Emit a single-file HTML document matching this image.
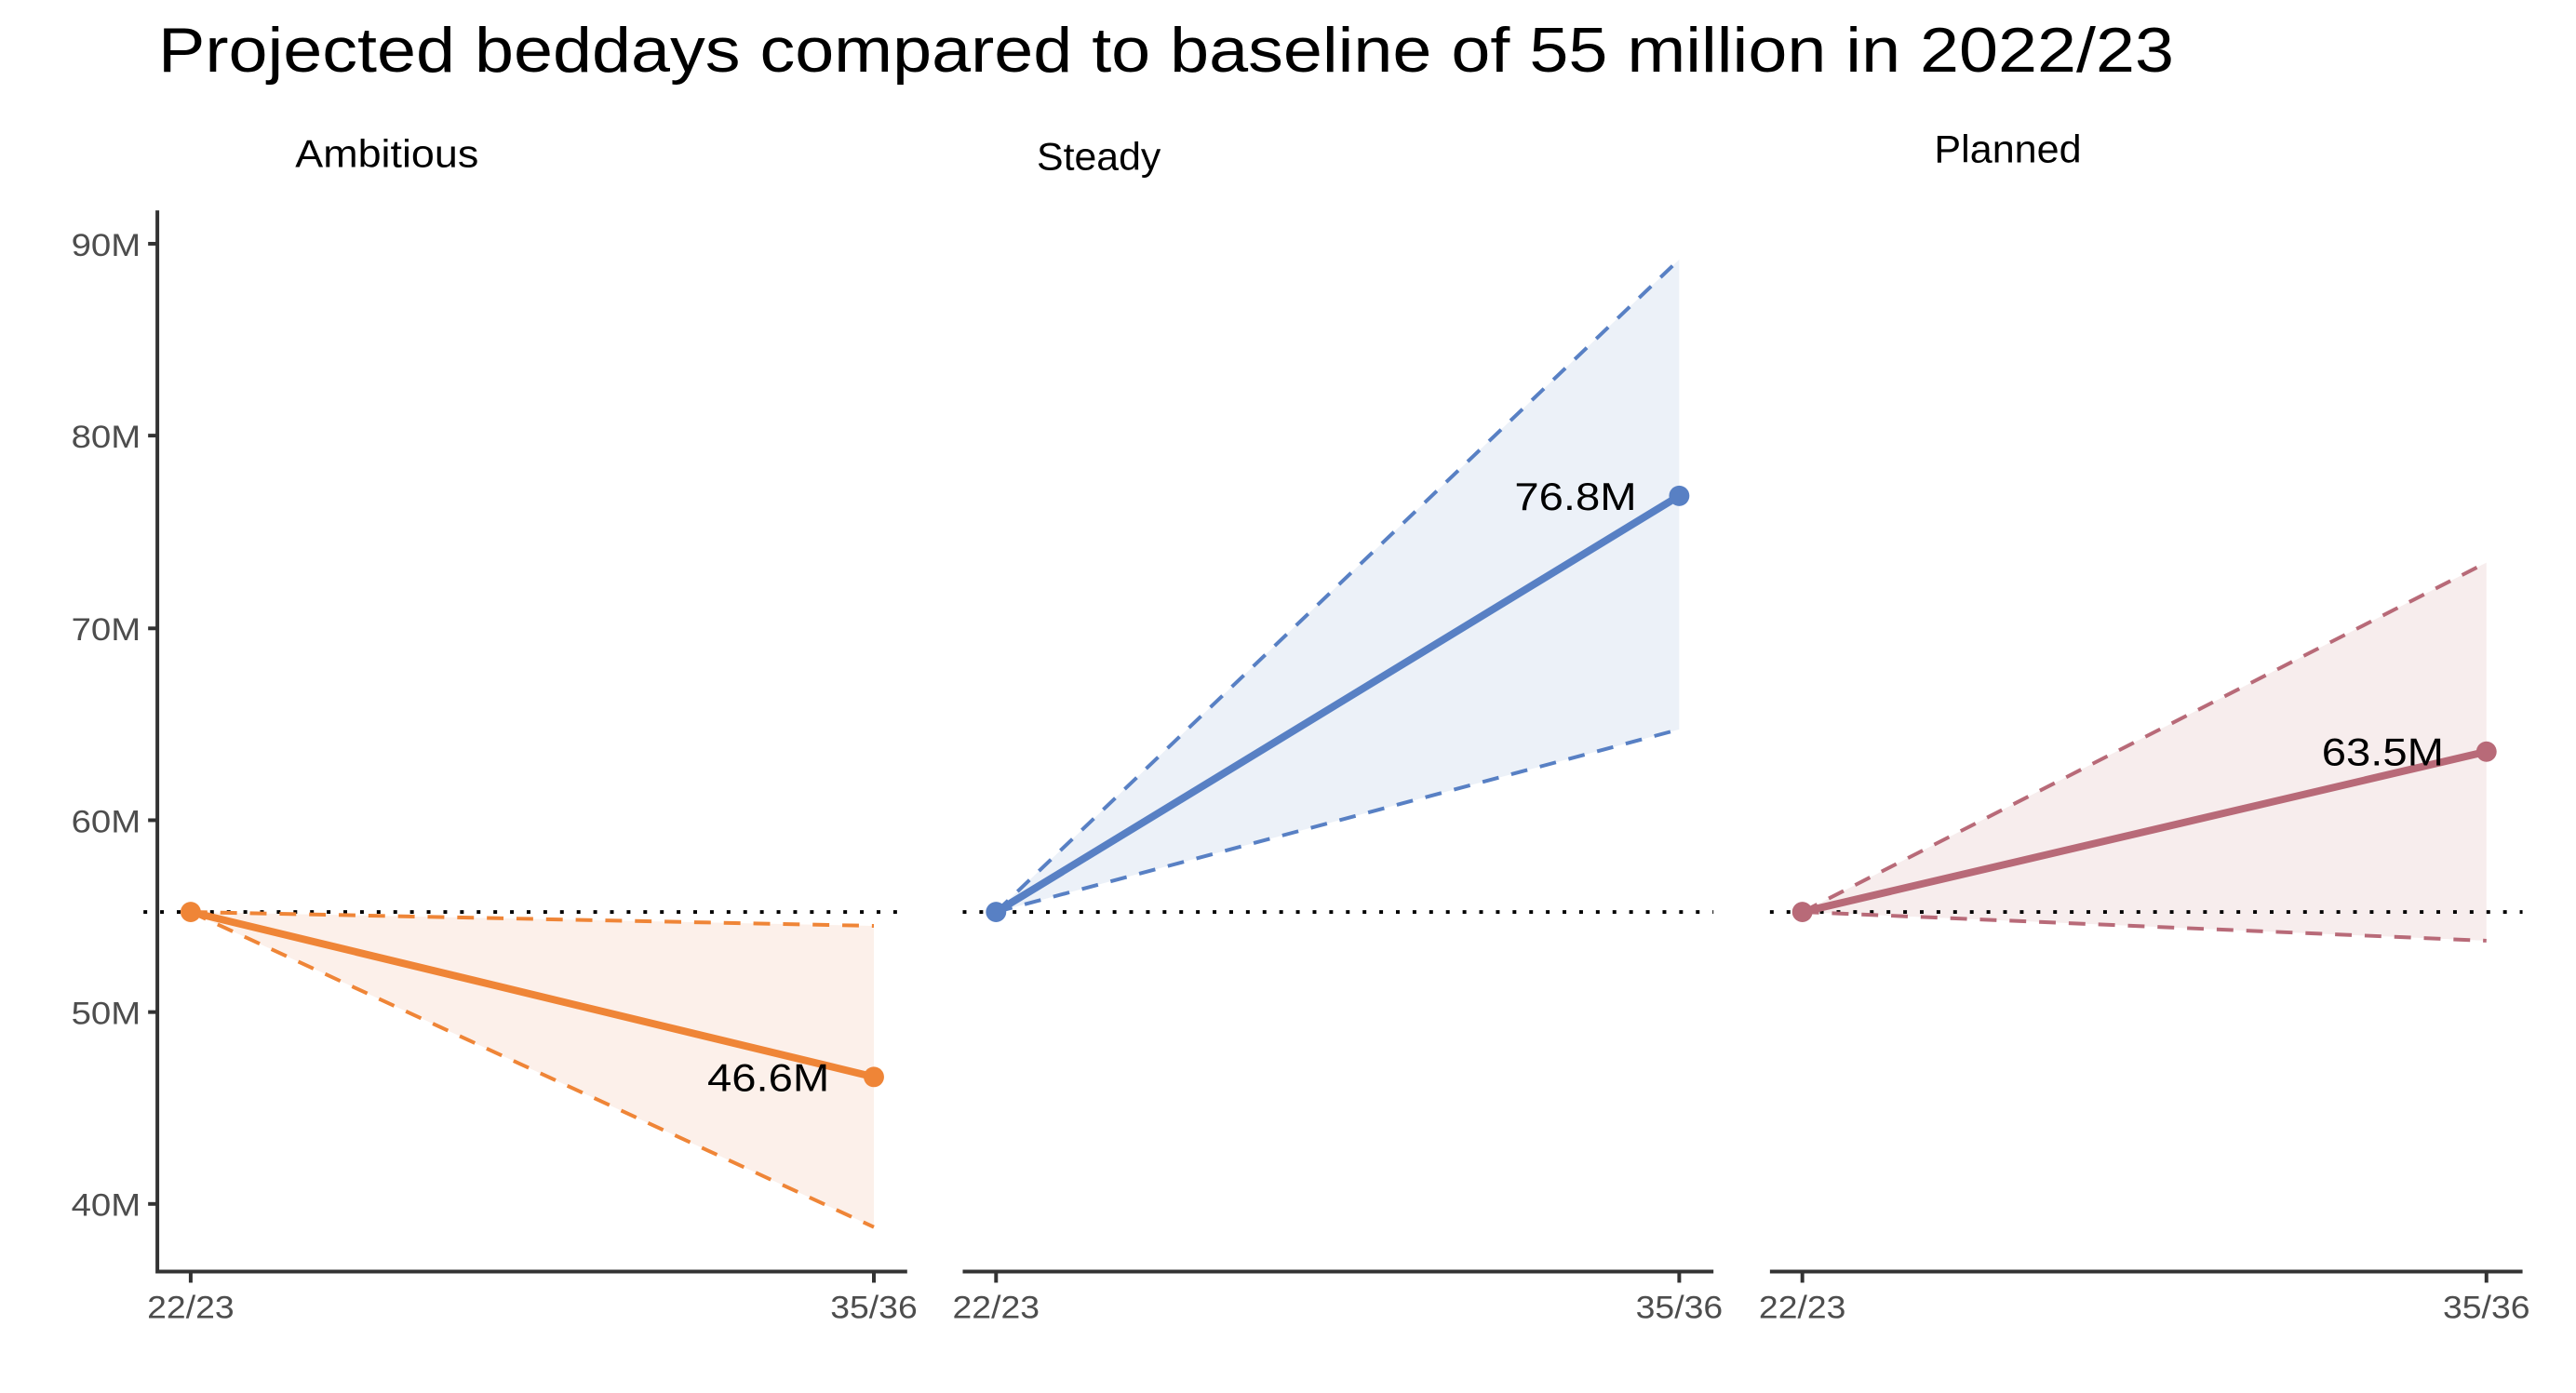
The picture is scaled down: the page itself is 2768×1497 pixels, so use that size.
<!DOCTYPE html>
<html><head><style>html,body{margin:0;padding:0;background:#fff;}svg{display:block;}</style></head>
<body>
<svg width="2768" height="1497" viewBox="0 0 2768 1497" xmlns="http://www.w3.org/2000/svg">
<rect width="2768" height="1497" fill="#fff"/>
<text x="170" y="77" font-family="Liberation Sans, DejaVu Sans, sans-serif" font-size="68" fill="#000" textLength="2166" lengthAdjust="spacingAndGlyphs">Projected beddays compared to baseline of 55 million in 2022/23</text>
<g transform="scale(0.9947,0.996)">
<g font-family="Liberation Sans, DejaVu Sans, sans-serif" font-size="42" fill="#000" text-anchor="middle" lengthAdjust="spacingAndGlyphs">
<text x="418" y="180" textLength="198" lengthAdjust="spacingAndGlyphs">Ambitious</text>
<text x="1187" y="183" textLength="134" lengthAdjust="spacingAndGlyphs">Steady</text>
<text x="2169" y="175" textLength="159" lengthAdjust="spacingAndGlyphs">Planned</text>
</g>
<line x1="170" y1="227" x2="170" y2="1374" stroke="#333" stroke-width="4"/>
<g stroke="#333" stroke-width="4">
<line x1="160" y1="263" x2="170" y2="263"/><line x1="160" y1="470" x2="170" y2="470"/>
<line x1="160" y1="678" x2="170" y2="678"/><line x1="160" y1="885" x2="170" y2="885"/>
<line x1="160" y1="1092" x2="170" y2="1092"/><line x1="160" y1="1299" x2="170" y2="1299"/>
</g>
<g font-family="Liberation Sans, DejaVu Sans, sans-serif" font-size="34" fill="#4d4d4d" text-anchor="end">
<text x="152" y="276" textLength="75" lengthAdjust="spacingAndGlyphs">90M</text><text x="152" y="483" textLength="75" lengthAdjust="spacingAndGlyphs">80M</text><text x="152" y="691" textLength="75" lengthAdjust="spacingAndGlyphs">70M</text>
<text x="152" y="898" textLength="75" lengthAdjust="spacingAndGlyphs">60M</text><text x="152" y="1105" textLength="75" lengthAdjust="spacingAndGlyphs">50M</text><text x="152" y="1312" textLength="75" lengthAdjust="spacingAndGlyphs">40M</text>
</g>
<g stroke="#333" stroke-width="4">
<line x1="170" y1="1372" x2="980" y2="1372"/><line x1="206" y1="1372" x2="206" y2="1384"/><line x1="944" y1="1372" x2="944" y2="1384"/>
<line x1="1040" y1="1372" x2="1851" y2="1372"/><line x1="1076" y1="1372" x2="1076" y2="1384"/><line x1="1814" y1="1372" x2="1814" y2="1384"/>
<line x1="1912" y1="1372" x2="2725" y2="1372"/><line x1="1947" y1="1372" x2="1947" y2="1384"/><line x1="2686" y1="1372" x2="2686" y2="1384"/>
</g>
<g font-family="Liberation Sans, DejaVu Sans, sans-serif" font-size="34" fill="#4d4d4d" text-anchor="middle">
<text x="206" y="1422" textLength="94" lengthAdjust="spacingAndGlyphs">22/23</text><text x="944" y="1422" textLength="94" lengthAdjust="spacingAndGlyphs">35/36</text>
<text x="1076" y="1422" textLength="94" lengthAdjust="spacingAndGlyphs">22/23</text><text x="1814" y="1422" textLength="94" lengthAdjust="spacingAndGlyphs">35/36</text>
<text x="1947" y="1422" textLength="94" lengthAdjust="spacingAndGlyphs">22/23</text><text x="2686" y="1422" textLength="94" lengthAdjust="spacingAndGlyphs">35/36</text>
</g>
<polygon points="206,984 944,999 944,1324" fill="#fcf0ea"/>
<line x1="155" y1="984" x2="980" y2="984" stroke="#000" stroke-width="4" stroke-dasharray="4,14"/>
<g stroke="#ef8537" stroke-width="4" stroke-dasharray="18,14" fill="none">
<line x1="206" y1="984" x2="944" y2="999"/><line x1="206" y1="984" x2="944" y2="1324"/>
</g>
<line x1="206" y1="984" x2="944" y2="1162" stroke="#ef8537" stroke-width="8"/>
<circle cx="206" cy="984" r="11" fill="#ef8537"/><circle cx="944" cy="1162" r="11" fill="#ef8537"/>
<text x="896" y="1177" font-family="Liberation Sans, Arial, sans-serif" font-size="42" fill="#000" text-anchor="end" textLength="132" lengthAdjust="spacingAndGlyphs">46.6M</text>
<polygon points="1076,984 1814,280 1814,787" fill="#ecf1f8"/>
<line x1="1040" y1="984" x2="1851" y2="984" stroke="#000" stroke-width="4" stroke-dasharray="4,14"/>
<g stroke="#5880c4" stroke-width="4" stroke-dasharray="18,14" fill="none">
<line x1="1076" y1="984" x2="1814" y2="280"/><line x1="1076" y1="984" x2="1814" y2="787"/>
</g>
<line x1="1076" y1="984" x2="1814" y2="535" stroke="#5880c4" stroke-width="8"/>
<circle cx="1076" cy="984" r="11" fill="#5880c4"/><circle cx="1814" cy="535" r="11" fill="#5880c4"/>
<text x="1768" y="550" font-family="Liberation Sans, Arial, sans-serif" font-size="42" fill="#000" text-anchor="end" textLength="132" lengthAdjust="spacingAndGlyphs">76.8M</text>
<polygon points="1947,984 2686,607 2686,1015" fill="#f7eded"/>
<line x1="1912" y1="984" x2="2725" y2="984" stroke="#000" stroke-width="4" stroke-dasharray="4,14"/>
<g stroke="#b86a78" stroke-width="4" stroke-dasharray="18,14" fill="none">
<line x1="1947" y1="984" x2="2686" y2="607"/><line x1="1947" y1="984" x2="2686" y2="1015"/>
</g>
<line x1="1947" y1="984" x2="2686" y2="811" stroke="#b86a78" stroke-width="8"/>
<circle cx="1947" cy="984" r="11" fill="#b86a78"/><circle cx="2686" cy="811" r="11" fill="#b86a78"/>
<text x="2640" y="826" font-family="Liberation Sans, Arial, sans-serif" font-size="42" fill="#000" text-anchor="end" textLength="132" lengthAdjust="spacingAndGlyphs">63.5M</text>
</g>
</svg>
</body></html>
